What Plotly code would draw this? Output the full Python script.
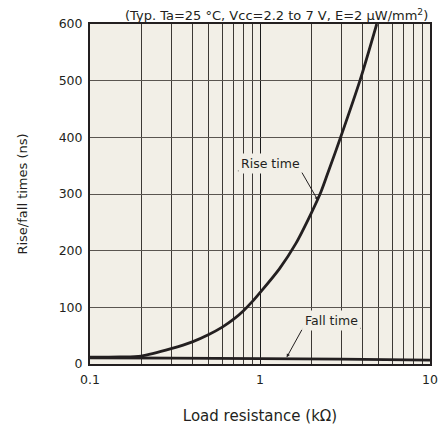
import plotly.graph_objects as go

rise_x = [0.1, 0.15, 0.2, 0.3, 0.4, 0.5, 0.6, 0.7, 0.8, 0.9, 1.0, 1.3, 1.62, 2.0, 2.285, 2.5, 2.98, 3.87, 4.86]
rise_y = [12, 12.5, 14, 27, 39, 52, 65, 79, 94, 110, 126, 168, 212, 266, 304, 336, 400, 500, 600]
fall_x = [0.1, 0.3, 1.0, 3.0, 10.0]
fall_y = [11, 10.5, 9.5, 8.5, 7]

major_x = [0.1, 1, 10]
major_text = ["0.1", "1", "10"]
minor_x = [0.2, 0.3, 0.4, 0.5, 0.6, 0.7, 0.8, 0.9, 2, 3, 4, 5, 6, 7, 8, 9]
y_ticks = [0, 100, 200, 300, 400, 500, 600]

font = "DejaVu Sans, Verdana, sans-serif"
line_col = "#231f20"
bg = "#f2efe7"

fig = go.Figure()
fig.add_trace(go.Scatter(x=rise_x, y=rise_y, mode="lines",
                         line=dict(color=line_col, width=2.8, shape="spline", smoothing=0.8), showlegend=False))
fig.add_trace(go.Scatter(x=fall_x, y=fall_y, mode="lines",
                         line=dict(color=line_col, width=2.8, shape="spline", smoothing=0.8), showlegend=False))

fig.update_layout(
    width=442, height=432,
    margin=dict(l=90, r=12, t=24, b=68),
    paper_bgcolor="white",
    plot_bgcolor=bg,
    font=dict(family=font, size=12, color="#231f20"),
    xaxis=dict(
        type="log", range=[-1, 1], automargin=False, ticklabeloverflow="allow",
        tickmode="array", tickvals=major_x, ticktext=major_text,
        showgrid=True, gridcolor="#1a1a1a", gridwidth=1,
        minor=dict(tickmode="array", tickvals=minor_x, showgrid=True, gridcolor="#3d3935", gridwidth=1, ticklen=0),
        showline=True, linecolor="#231f20", linewidth=2, mirror=True,
        ticks="", ticklabelstandoff=3, tickfont=dict(size=12.5),
        title=dict(text="Load resistance (kΩ)", font=dict(size=15), standoff=24),
        zeroline=False,
    ),
    yaxis=dict(
        range=[0, 600], tickmode="array", tickvals=y_ticks, automargin=False,
        showgrid=True, gridcolor="#5a5550", gridwidth=1,
        showline=True, linecolor="#231f20", linewidth=2, mirror=True,
        ticks="", zeroline=False, ticklabelstandoff=3, tickfont=dict(size=12.5),
        title=dict(text="Rise/fall times (ns)", font=dict(size=13), standoff=28),
    ),
)

fig.add_annotation(
    xref="paper", yref="paper", x=1.0, y=1.0, xanchor="right", yanchor="bottom",
    text="(Typ. Ta=25 °C, Vcc=2.2 to 7 V, E=2 μW/mm<sup>2</sup>)",
    showarrow=False, font=dict(size=13), yshift=-1,
)

# Rise time label + leader
fig.add_annotation(
    xref="paper", yref="paper", x=0.532, y=0.591, xanchor="center", yanchor="middle",
    text="Rise time", showarrow=False, font=dict(size=12.5),
    bgcolor=bg, borderpad=2,
)
fig.add_shape(type="line", xref="paper", yref="paper", x0=0.435, x1=0.621, y0=0.568, y1=0.568,
              line=dict(color=line_col, width=1))
fig.add_annotation(
    xref="paper", yref="paper", x=0.670, y=0.482, ax=-16.7, ay=-29,
    text="", showarrow=True, arrowhead=2, arrowsize=0.7, arrowwidth=1, arrowcolor=line_col, standoff=0,
)

# Fall time label + leader
fig.add_annotation(
    xref="paper", yref="paper", x=0.709, y=0.129, xanchor="center", yanchor="middle",
    text="Fall time", showarrow=False, font=dict(size=12.5),
    bgcolor=bg, borderpad=2,
)
fig.add_shape(type="line", xref="paper", yref="paper", x0=0.626, x1=0.797, y0=0.105, y1=0.105,
              line=dict(color=line_col, width=1))
fig.add_annotation(
    xref="paper", yref="paper", x=0.5785, y=0.0197, ax=16, ay=-29,
    text="", showarrow=True, arrowhead=2, arrowsize=0.7, arrowwidth=1, arrowcolor=line_col, standoff=0,
)

fig.write_html(
    "out.html",
    config={"displayModeBar": False},
    post_script=("document.documentElement.style.margin='0';document.body.style.margin='0';"
                 "document.documentElement.style.overflow='hidden';document.body.style.overflow='hidden';"),
)
